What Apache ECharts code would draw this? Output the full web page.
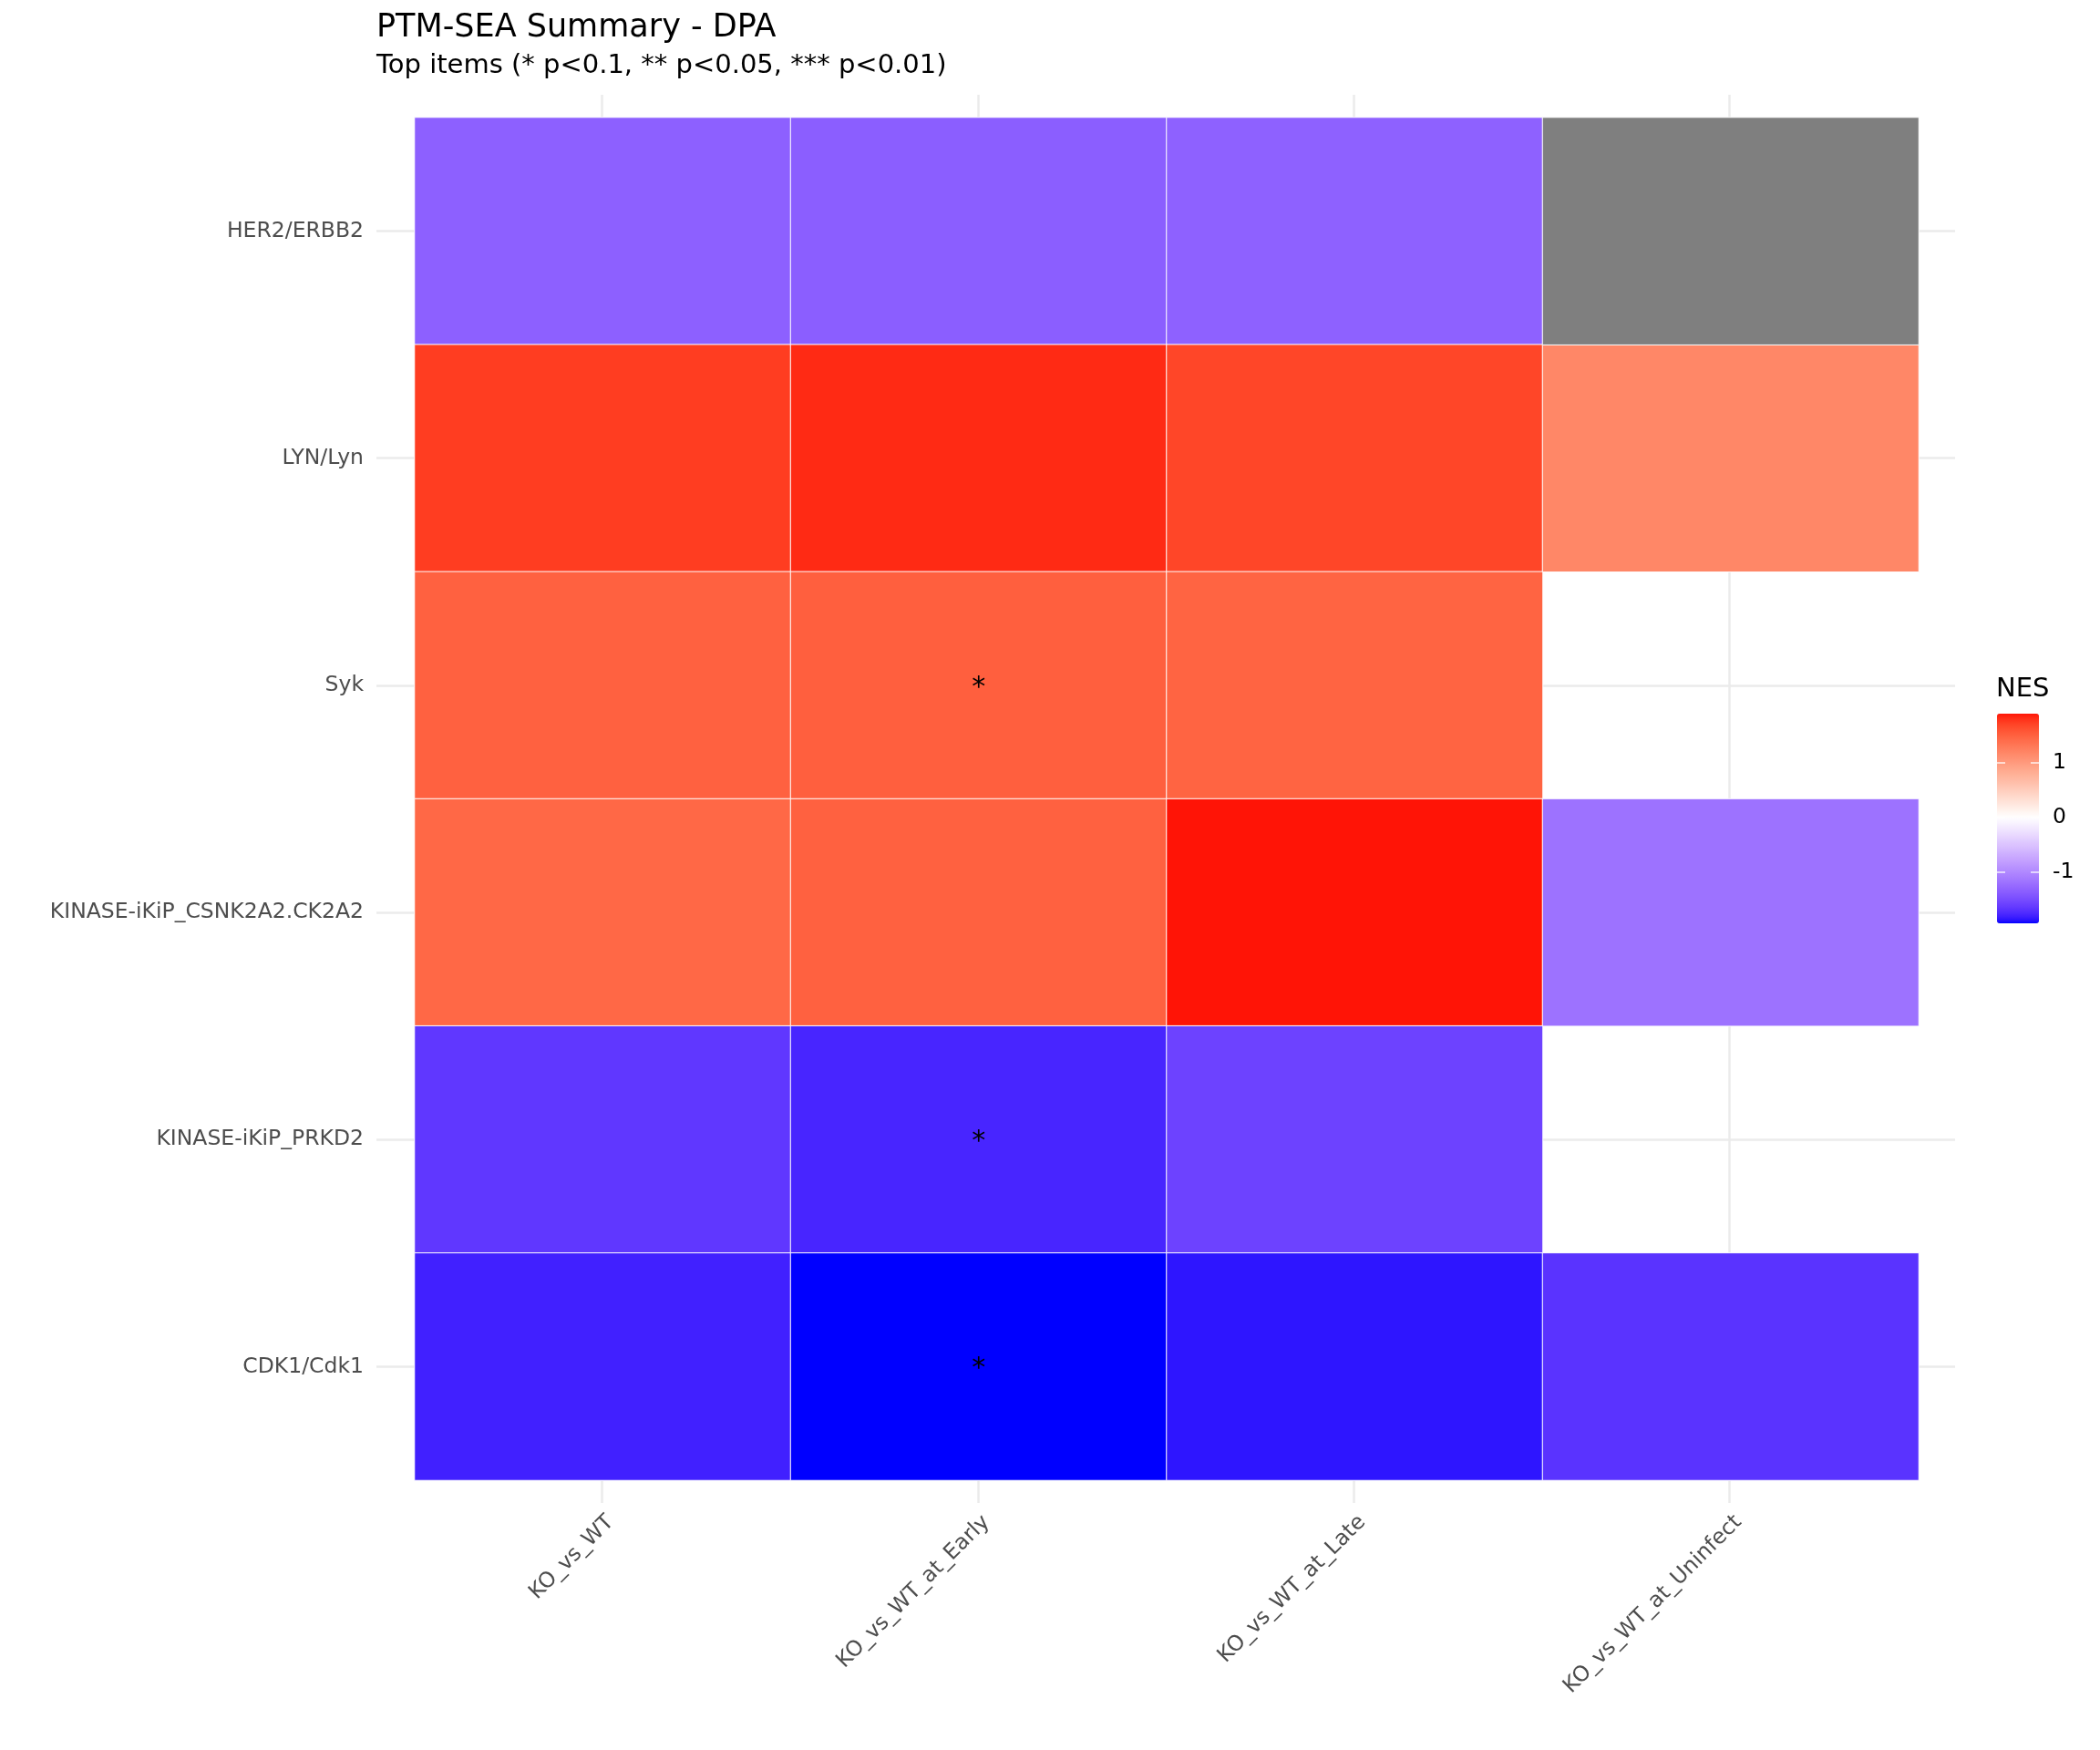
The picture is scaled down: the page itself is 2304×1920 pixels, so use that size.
<!DOCTYPE html>
<html>
<head>
<meta charset="utf-8">
<script src="https://cdn.jsdelivr.net/npm/echarts@6/dist/echarts.min.js"></script>
<style>html,body{margin:0;padding:0;background:#fff}#c{width:2304px;height:1920px}</style>
</head>
<body>
<div id="c"></div>
<script>
// ---- data ----
const columns = ['KO_vs_WT', 'KO_vs_WT_at_Early', 'KO_vs_WT_at_Late', 'KO_vs_WT_at_Uninfect'];
const rows = ['HER2/ERBB2', 'LYN/Lyn', 'Syk', 'KINASE-iKiP_CSNK2A2.CK2A2', 'KINASE-iKiP_PRKD2', 'CDK1/Cdk1'];
// NES per column, rows in the order above (null = no tile, 'NA' = tile with missing NES)
const nesKO_vs_WT = [-1.33, 1.74, 1.50, 1.45, -1.65, -1.80];
const nesEarly = [-1.35, 1.83, 1.51, 1.50, -1.77, -1.93];
const nesLate = [-1.32, 1.69, 1.48, 1.90, -1.57, -1.86];
const nesUninfect = ['NA', 1.18, null, -1.18, null, -1.68];
// significance stars
const sigKO_vs_WT = ['', '', '', '', '', ''];
const sigEarly = ['', '', '*', '', '*', '*'];
const sigLate = ['', '', '', '', '', ''];
const sigUninfect = ['', '', '', '', '', ''];
const legendTicks = [-1, 0, 1];
const gridTicksX = [0, 1, 2, 3];
const gridTicksY = [0, 1, 2, 3, 4, 5];

const nesCols = [nesKO_vs_WT, nesEarly, nesLate, nesUninfect];
const sigCols = [sigKO_vs_WT, sigEarly, sigLate, sigUninfect];

const cells = [], naCells = [];
nesCols.forEach((col, ci) => col.forEach((v, ri) => {
  if (v === null) return;
  if (v === 'NA') { naCells.push([ci, ri, 0]); return; }
  cells.push([ci, ri, v, sigCols[ci][ri]]);
}));
const vals = cells.map(d => d[2]);
const vMin = Math.min(...vals), vMax = Math.max(...vals);
const absMax = Math.max(Math.abs(vMin), Math.abs(vMax));

// ---- Lab interpolation (like scales::div_gradient_pal) ----
function s2l(c){c/=255;return c<=0.04045?c/12.92:Math.pow((c+0.055)/1.055,2.4);}
function l2s(c){c=c<=0.0031308?12.92*c:1.055*Math.pow(c,1/2.4)-0.055;return Math.round(Math.max(0,Math.min(1,c))*255);}
function f(t){return t>0.008856?Math.cbrt(t):7.787*t+16/116;}
function fi(t){const t3=t*t*t;return t3>0.008856?t3:(t-16/116)/7.787;}
function toLab(rgb){
  const R=s2l(rgb[0]),G=s2l(rgb[1]),B=s2l(rgb[2]);
  const X=(0.4124564*R+0.3575761*G+0.1804375*B)/0.95047;
  const Y=(0.2126729*R+0.7151522*G+0.0721750*B);
  const Z=(0.0193339*R+0.1191920*G+0.9503041*B)/1.08883;
  const fx=f(X),fy=f(Y),fz=f(Z);
  return [116*fy-16,500*(fx-fy),200*(fy-fz)];
}
function fromLab(lab){
  const fy=(lab[0]+16)/116,fx=fy+lab[1]/500,fz=fy-lab[2]/200;
  const X=fi(fx)*0.95047,Y=fi(fy),Z=fi(fz)*1.08883;
  const R=3.2404542*X-1.5371385*Y-0.4985314*Z;
  const G=-0.9692660*X+1.8760108*Y+0.0415560*Z;
  const B=0.0556434*X-0.2040259*Y+1.0572252*Z;
  return 'rgb('+l2s(R)+','+l2s(G)+','+l2s(B)+')';
}
const labW=toLab([255,255,255]),labR=toLab([255,0,0]),labB=toLab([0,0,255]);
function colorOf(v){
  const t=Math.min(1,Math.abs(v)/absMax), e=v>=0?labR:labB;
  return fromLab([0,1,2].map(i=>labW[i]+(e[i]-labW[i])*t));
}
const stops=[];
const N=80;
for(let i=0;i<N;i++){stops.push(colorOf(vMin+(vMax-vMin)*i/(N-1)));}

const FONT='DejaVu Sans';
const chart = echarts.init(document.getElementById('c'));
chart.setOption({
  animation:false,
  backgroundColor:'#fff',
  textStyle:{fontFamily:FONT},
  title:[
    {text:'PTM-SEA Summary - DPA',left:413,top:13,padding:0,textStyle:{fontSize:35,fontWeight:'normal',color:'#000',fontFamily:FONT}},
    {text:'Top items (* p<0.1, ** p<0.05, *** p<0.01)',left:413,top:58,padding:0,textStyle:{fontSize:29,fontWeight:'normal',color:'#000',fontFamily:FONT}},
    {text:'NES',left:2190,top:742,padding:0,textStyle:{fontSize:29,fontWeight:'normal',color:'#000',fontFamily:FONT}}
  ],
  grid:[
    {left:413,right:159,top:104,bottom:271},
    {left:455,right:199,top:129,bottom:296},
    {left:2191,width:46,top:783,height:230}
  ],
  xAxis:[
    {type:'value',gridIndex:0,min:-0.6,max:3.6,minInterval:1,maxInterval:1,
     axisLine:{show:false},axisTick:{show:false,customValues:gridTicksX},axisLabel:{show:false,customValues:gridTicksX},
     splitLine:{show:true,lineStyle:{color:'#EBEBEB',width:2.5}}},
    {type:'category',gridIndex:1,data:columns,
     axisLine:{show:false},axisTick:{show:false},splitLine:{show:false},
     axisLabel:{rotate:45,align:'right',verticalAlign:'top',margin:34,fontSize:23.5,color:'#4D4D4D',fontFamily:FONT}},
    {type:'value',gridIndex:2,min:0,max:1,show:false}
  ],
  yAxis:[
    {type:'value',gridIndex:0,min:-0.6,max:5.6,inverse:true,minInterval:1,maxInterval:1,
     axisLine:{show:false},axisTick:{show:false,customValues:gridTicksY},axisLabel:{show:false,customValues:gridTicksY},
     splitLine:{show:true,lineStyle:{color:'#EBEBEB',width:2.5}}},
    {type:'category',gridIndex:1,data:rows,inverse:true,
     axisLine:{show:false},axisTick:{show:false},splitLine:{show:false},
     axisLabel:{margin:56,fontSize:23.5,color:'#4D4D4D',fontFamily:FONT}},
    {type:'value',gridIndex:2,position:'left',min:vMin,max:vMax,z:10,
     axisLine:{show:false},splitLine:{show:false},
     axisTick:{show:true,inside:true,length:9,customValues:legendTicks,lineStyle:{color:'rgba(255,255,255,0.85)',width:1.5}},
     axisLabel:{show:false,customValues:legendTicks}},
    {type:'value',gridIndex:2,position:'right',min:vMin,max:vMax,z:10,
     axisLine:{show:false},splitLine:{show:false},
     axisTick:{show:true,inside:true,length:9,customValues:legendTicks,lineStyle:{color:'rgba(255,255,255,0.85)',width:1.5}},
     axisLabel:{show:true,margin:15,fontSize:23.5,color:'#000',fontFamily:FONT,customValues:legendTicks}}
  ],
  visualMap:[{
    type:'continuous',seriesIndex:0,dimension:2,min:vMin,max:vMax,calculable:false,
    left:2191,top:783,itemWidth:46,itemHeight:230,padding:0,text:null,showLabel:false,
    inRange:{color:stops}
  }],
  series:[
    {type:'heatmap',xAxisIndex:1,yAxisIndex:1,data:cells,
     itemStyle:{borderColor:'#fff',borderWidth:1},
     label:{show:true,formatter:p=>p.data[3]||'',fontSize:30,color:'#000',fontFamily:FONT,offset:[0,3]},
     emphasis:{disabled:true}},
    {type:'heatmap',xAxisIndex:1,yAxisIndex:1,data:naCells,
     itemStyle:{color:'#7F7F7F',borderColor:'#fff',borderWidth:1},
     label:{show:false},emphasis:{disabled:true}}
  ]
});
</script>
</body>
</html>
